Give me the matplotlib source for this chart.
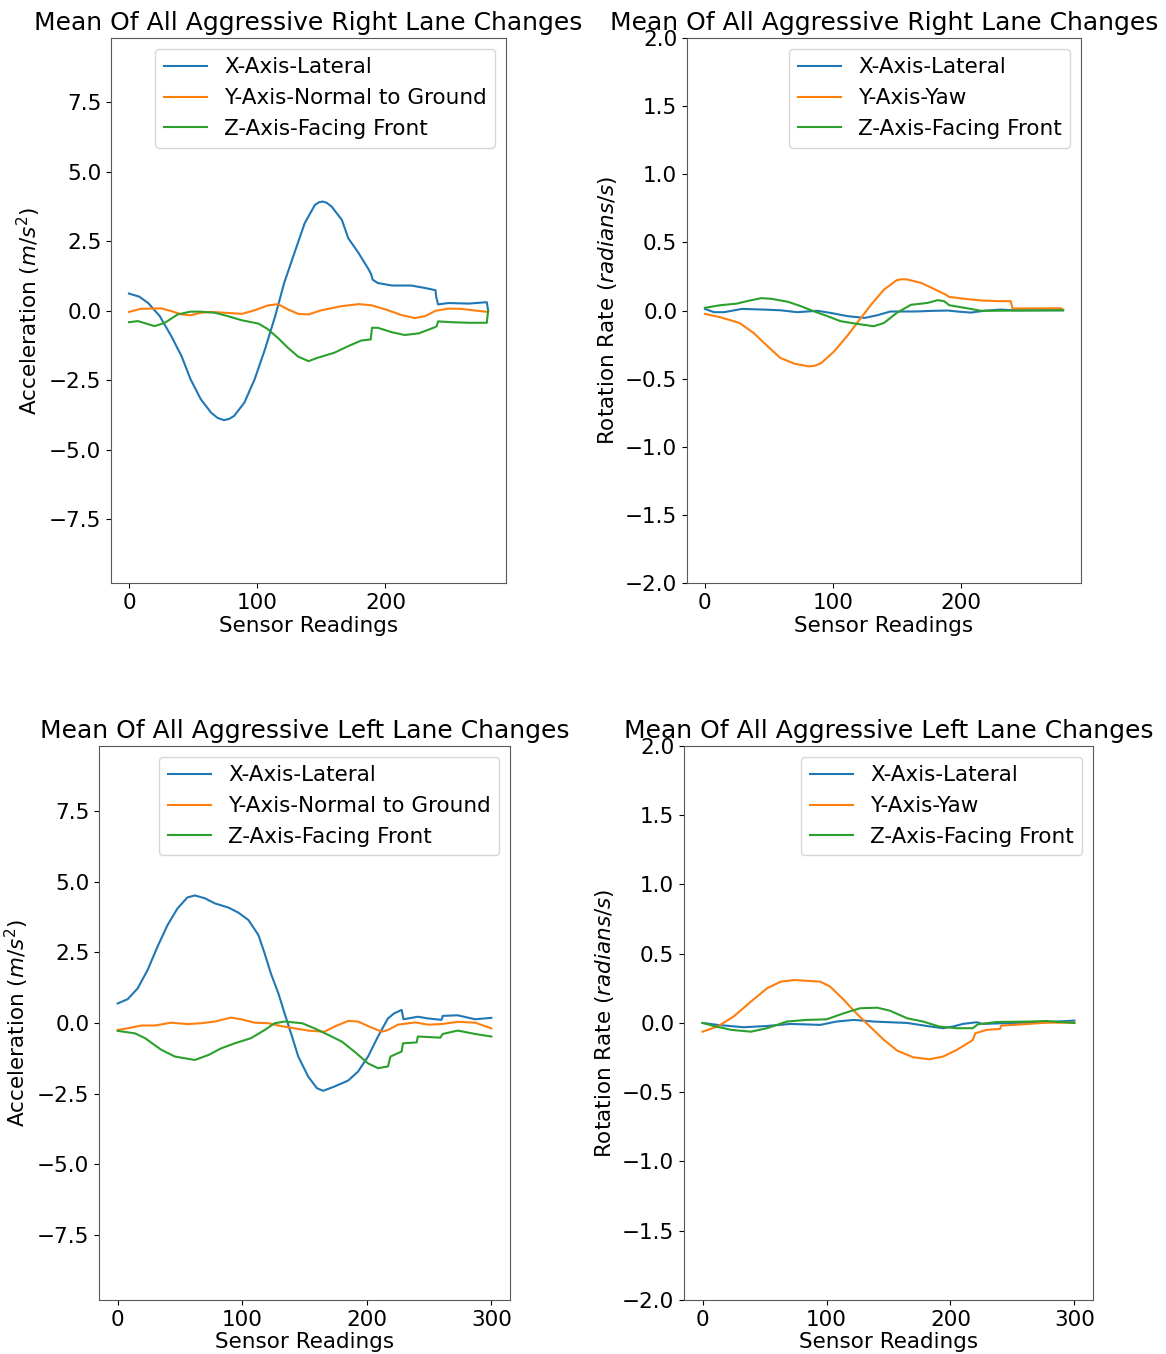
#import neccesary libraries
import numpy as np
import matplotlib
matplotlib.use("Agg")
import matplotlib.pyplot as plt

# ---- right lane change, acceleration ----
right_acc_lat_t = [0, 8, 15, 24, 33, 41, 48, 56, 64, 69, 74, 78, 82, 90, 98, 106, 114, 121, 129, 137, 145, 148, 151, 154, 158, 166, 171, 179, 187, 189, 190, 194, 205, 220, 231, 239, 239.5, 241, 249, 265, 279, 280]
right_acc_lat = [0.61, 0.5, 0.27, -0.2, -0.92, -1.64, -2.47, -3.19, -3.67, -3.86, -3.94, -3.9, -3.79, -3.31, -2.47, -1.4, -0.2, 0.99, 2.07, 3.14, 3.8, 3.89, 3.92, 3.88, 3.74, 3.26, 2.6, 2.07, 1.47, 1.29, 1.11, 0.99, 0.9, 0.9, 0.81, 0.73, 0.5, 0.22, 0.27, 0.25, 0.3, 0.0]
right_acc_norm_t = [0, 9, 25, 33, 41, 48, 56, 64, 75, 88, 98, 108, 116, 124, 132, 140, 150, 166, 179, 189, 200, 213, 223, 231, 239, 249, 259, 270, 280]
right_acc_norm = [-0.05, 0.06, 0.08, -0.02, -0.14, -0.17, -0.08, -0.05, -0.08, -0.12, 0.01, 0.18, 0.23, 0.04, -0.12, -0.14, 0.01, 0.16, 0.23, 0.19, 0.04, -0.17, -0.27, -0.2, -0.01, 0.07, 0.06, 0.0, -0.05]
right_acc_front_t = [0, 7, 20, 28, 38, 48, 56, 67, 77, 88, 101, 108, 116, 124, 132, 140, 147, 160, 171, 181, 188.5, 189.5, 194, 205, 215, 226, 238.5, 240, 241, 252, 265, 279, 280]
right_acc_front = [-0.42, -0.38, -0.56, -0.44, -0.14, -0.04, -0.04, -0.08, -0.2, -0.35, -0.47, -0.66, -0.98, -1.34, -1.66, -1.82, -1.7, -1.52, -1.28, -1.08, -1.04, -0.62, -0.62, -0.78, -0.88, -0.82, -0.6, -0.56, -0.39, -0.42, -0.44, -0.44, 0.0]

# ---- right lane change, rotation ----
right_rot_lat_t = [0, 7, 15, 29, 46, 59, 72, 88, 98, 112, 125, 135, 145, 164, 179, 190, 197, 208, 218, 231, 242, 280]
right_rot_lat = [0.012, -0.012, -0.012, 0.012, 0.007, 0.002, -0.012, -0.002, -0.017, -0.042, -0.054, -0.034, -0.007, -0.007, -0.002, 0.0, -0.007, -0.015, -0.002, 0.007, 0.002, 0.002]
right_rot_yaw_t = [0, 12, 27, 38, 49, 59, 70, 81, 86, 91, 101, 111, 119, 130, 140, 150, 154, 158, 169, 179, 188, 191, 203, 216, 229, 239, 240.5, 278, 280]
right_rot_yaw = [-0.025, -0.049, -0.091, -0.164, -0.262, -0.348, -0.39, -0.41, -0.405, -0.385, -0.3, -0.189, -0.091, 0.044, 0.154, 0.223, 0.23, 0.228, 0.203, 0.159, 0.118, 0.1, 0.086, 0.074, 0.069, 0.069, 0.015, 0.017, 0.007]
right_rot_front_t = [0, 12, 25, 33, 44, 52, 65, 75, 85, 96, 106, 119, 132, 140, 150, 161, 174, 182, 187, 191, 203, 216, 280]
right_rot_front = [0.02, 0.039, 0.051, 0.069, 0.091, 0.086, 0.064, 0.032, -0.005, -0.042, -0.078, -0.098, -0.115, -0.091, -0.017, 0.042, 0.056, 0.076, 0.069, 0.039, 0.02, -0.002, 0.002]

# ---- left lane change, acceleration ----
left_acc_lat_t = [0, 8, 16, 24, 32, 40, 48, 56, 62, 70, 78, 89, 97, 105, 113, 118, 123, 129, 134, 140, 145, 153, 160, 165, 174, 185, 193, 201, 209, 217, 222, 228, 229.5, 241, 249, 260, 261, 273, 287, 300]
left_acc_lat = [0.69, 0.84, 1.22, 1.87, 2.7, 3.46, 4.05, 4.44, 4.51, 4.41, 4.23, 4.08, 3.9, 3.64, 3.11, 2.46, 1.75, 1.05, 0.34, -0.48, -1.19, -1.9, -2.31, -2.4, -2.25, -2.04, -1.72, -1.19, -0.48, 0.16, 0.34, 0.46, 0.13, 0.22, 0.16, 0.11, 0.25, 0.27, 0.13, 0.18]
left_acc_norm_t = [0, 8, 19, 30, 43, 56, 67, 78, 91, 99, 110, 121, 131, 142, 153, 166, 174, 185, 193, 201, 212, 217, 225, 239, 249, 260, 273, 287, 300]
left_acc_norm = [-0.25, -0.19, -0.09, -0.09, 0.01, -0.04, -0.01, 0.05, 0.19, 0.13, 0.01, -0.01, -0.11, -0.19, -0.27, -0.31, -0.13, 0.07, 0.05, -0.11, -0.31, -0.25, -0.06, 0.02, -0.06, -0.04, 0.04, 0.01, -0.19]
left_acc_front_t = [0, 14, 22, 35, 46, 62, 73, 83, 94, 107, 118, 126, 134, 148, 158, 169, 180, 190, 201, 209, 217, 219, 228, 229, 240, 241, 259, 261, 273, 287, 300]
left_acc_front = [-0.28, -0.37, -0.54, -0.95, -1.19, -1.31, -1.13, -0.9, -0.72, -0.54, -0.25, -0.01, 0.05, -0.01, -0.19, -0.42, -0.66, -1.01, -1.43, -1.6, -1.54, -1.19, -1.01, -0.72, -0.69, -0.48, -0.52, -0.39, -0.27, -0.39, -0.48]

# ---- left lane change, rotation ----
left_rot_lat_t = [0, 12, 33, 52, 71, 95, 108, 122, 138, 165, 181, 194, 202, 210, 221, 226, 250, 277, 300]
left_rot_lat = [0.0, -0.014, -0.031, -0.022, -0.007, -0.014, 0.01, 0.022, 0.01, 0.0, -0.022, -0.038, -0.026, -0.007, 0.005, -0.007, 0.0, 0.005, 0.017]
left_rot_yaw_t = [0, 12, 25, 39, 52, 63, 74, 95, 103, 114, 124, 135, 146, 157, 170, 183, 194, 205, 216, 218, 220, 229, 240, 241, 258, 277, 300]
left_rot_yaw = [-0.063, -0.026, 0.046, 0.154, 0.25, 0.298, 0.31, 0.298, 0.262, 0.166, 0.07, -0.026, -0.12, -0.2, -0.248, -0.262, -0.243, -0.195, -0.135, -0.123, -0.075, -0.05, -0.043, -0.019, -0.01, 0.002, 0.002]
left_rot_front_t = [0, 9, 23, 39, 52, 68, 84, 100, 114, 127, 141, 151, 165, 178, 191, 205, 218, 222, 237, 264, 277, 300]
left_rot_front = [0.0, -0.022, -0.05, -0.063, -0.038, 0.01, 0.022, 0.026, 0.07, 0.106, 0.11, 0.089, 0.034, 0.01, -0.026, -0.038, -0.038, -0.01, 0.007, 0.01, 0.014, 0.0]

acc_labels = ["X-Axis-Lateral", "Y-Axis-Normal to Ground", "Z-Axis-Facing Front"]
rot_labels = ["X-Axis-Lateral", "Y-Axis-Yaw", "Z-Axis-Facing Front"]

plt.rcParams["font.size"] = 15.5
plt.rcParams["axes.edgecolor"] = "0.35"

fig = plt.figure(figsize=(11.66, 13.54), dpi=100)

#axes positions [left, bottom, width, height]
ax1 = fig.add_axes([0.0952, 0.5694, 0.3388, 0.4025])
ax2 = fig.add_axes([0.5892, 0.5694, 0.3379, 0.4025])
ax3 = fig.add_axes([0.0849, 0.0399, 0.3525, 0.4092])
ax4 = fig.add_axes([0.5866, 0.0399, 0.3508, 0.4092])

panels = [
    (ax1, "Mean Of All Aggressive Right Lane Changes", "acc",
     [(right_acc_lat_t, right_acc_lat), (right_acc_norm_t, right_acc_norm), (right_acc_front_t, right_acc_front)]),
    (ax2, "Mean Of All Aggressive Right Lane Changes", "rot",
     [(right_rot_lat_t, right_rot_lat), (right_rot_yaw_t, right_rot_yaw), (right_rot_front_t, right_rot_front)]),
    (ax3, "Mean Of All Aggressive Left Lane Changes", "acc",
     [(left_acc_lat_t, left_acc_lat), (left_acc_norm_t, left_acc_norm), (left_acc_front_t, left_acc_front)]),
    (ax4, "Mean Of All Aggressive Left Lane Changes", "rot",
     [(left_rot_lat_t, left_rot_lat), (left_rot_yaw_t, left_rot_yaw), (left_rot_front_t, left_rot_front)]),
]

colors = ["#1f77b4", "#ff7f0e", "#2ca02c"]

for ax, title, kind, series in panels:
    labels = acc_labels if kind == "acc" else rot_labels
    for (t, v), lab, c in zip(series, labels, colors):
        ax.plot(t, v, color=c, label=lab, linewidth=1.5)
    if kind == "acc":
        ax.set_ylim(-9.8, 9.8)
        ax.set_yticks([-7.5, -5.0, -2.5, 0.0, 2.5, 5.0, 7.5])
        ax.set_ylabel("Acceleration ($m/s^2$)")
    else:
        ax.set_ylim(-2.0, 2.0)
        ax.set_yticks(np.arange(-2.0, 2.01, 0.5))
        ax.set_ylabel("Rotation Rate ($radians/s$)")
    ax.set_title(title, fontsize=18)
    ax.set_xlabel("Sensor Readings", labelpad=2)
    ax.legend(loc="upper right")

plt.savefig("out.png", dpi=100)
